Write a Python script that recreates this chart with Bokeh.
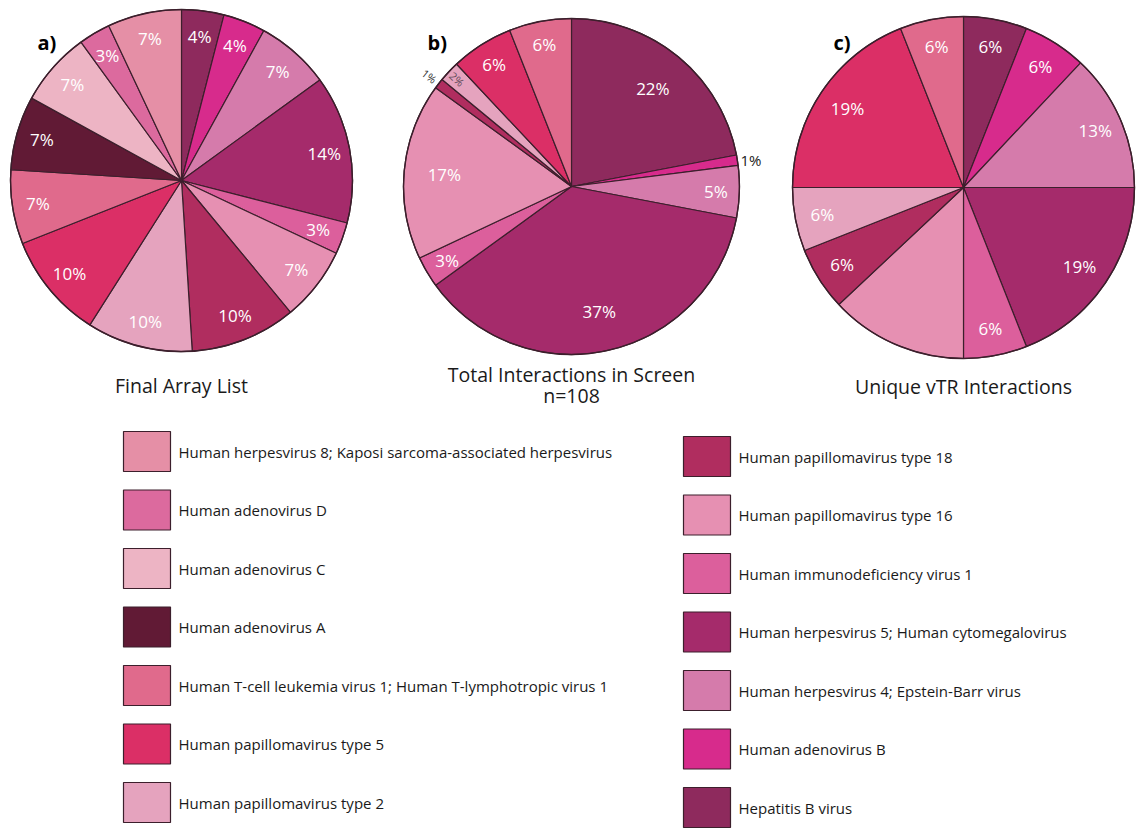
import math
from bokeh.plotting import figure
from bokeh.models import Range1d
from bokeh.embed import file_html
from bokeh.resources import INLINE
from bokeh.core.properties import value

# ---- data -------------------------------------------------------------
categories = [
    "Human herpesvirus 8; Kaposi sarcoma-associated herpesvirus",
    "Human adenovirus D",
    "Human adenovirus C",
    "Human adenovirus A",
    "Human T-cell leukemia virus 1; Human T-lymphotropic virus 1",
    "Human papillomavirus type 5",
    "Human papillomavirus type 2",
    "Human papillomavirus type 18",
    "Human papillomavirus type 16",
    "Human immunodeficiency virus 1",
    "Human herpesvirus 5; Human cytomegalovirus",
    "Human herpesvirus 4; Epstein-Barr virus",
    "Human adenovirus B",
    "Hepatitis B virus",
]
colors = [
    "#E58FA6", "#DC6A9E", "#EDB4C4", "#611A35", "#E06A8C", "#DB2F66", "#E5A3BE",
    "#B02D5F", "#E690B2", "#DC5F9C", "#A52B6B", "#D57BAB", "#D72B8C", "#8E2A5D",
]
final_array_pct = [7, 3, 7, 7, 7, 10, 10, 10, 7, 3, 14, 7, 4, 4]
total_interactions_pct = [0, 0, 0, 0, 6, 6, 2, 1, 17, 3, 37, 5, 1, 22]
unique_vtr_pct = [0, 0, 0, 0, 6, 19, 6, 6, 13, 6, 19, 13, 6, 6]

panel_letters = ["a)", "b)", "c)"]
panel_titles = ["Final Array List", "Total Interactions in Screen", "Unique vTR Interactions"]
panel_subtitles = ["", "n=108", ""]

# ---- layout (pixel coordinates, y measured from the top) --------------
W, H = 1139, 829
FONT = "Open Sans"
EDGE = "#3C1F2C"

pies = [
    dict(values=final_array_pct, cx=181, cy=180, r=171, lr_small=0.85, lr_large=0.82,
         letter=(37, 42), title_y=385),
    dict(values=total_interactions_pct, cx=571, cy=186, r=168, lr_small=0.86, lr_large=0.76,
         letter=(427, 42), title_y=374),
    dict(values=unique_vtr_pct, cx=963, cy=187, r=171, lr_small=0.84, lr_large=0.82,
         letter=(833, 42), title_y=386),
]
# slices whose percentage is not printed
hidden = {(2, "Human papillomavirus type 16")}


def Y(y):
    return H - y


p = figure(width=W, height=H, output_backend="svg", toolbar_location=None,
           x_range=Range1d(0, W), y_range=Range1d(0, H), min_border=0)
p.axis.visible = False
p.grid.visible = False
p.outline_line_color = None
p.background_fill_color = "white"
p.border_fill_color = "white"

for k, pie in enumerate(pies):
    vals = pie["values"]
    total = float(sum(vals))
    cx, cy, r = pie["cx"], Y(pie["cy"]), pie["r"]
    ws = dict(start=[], end=[], color=[])
    inner = dict(x=[], y=[], t=[])
    small = []
    acc = 0.0
    # slices run clockwise from 12 o'clock, last legend entry first
    for i in reversed(range(len(categories))):
        v = vals[i]
        if v <= 0:
            continue
        a0 = math.pi / 2 - 2 * math.pi * acc / total
        acc += v
        a1 = math.pi / 2 - 2 * math.pi * acc / total
        ws["start"].append(a0)
        ws["end"].append(a1)
        ws["color"].append(colors[i])
        mid = (a0 + a1) / 2
        label = f"{v}%"
        if (k, categories[i]) in hidden:
            continue
        if v >= 3:
            rr = r * (pie["lr_large"] if v >= 15 else pie["lr_small"])
            inner["x"].append(cx + rr * math.cos(mid))
            inner["y"].append(cy + rr * math.sin(mid))
            inner["t"].append(label)
        else:
            small.append((v, mid, label))

    p.wedge(x=cx, y=cy, radius=r, start_angle=ws["start"], end_angle=ws["end"],
            direction="clock", fill_color=ws["color"], line_color=EDGE, line_width=1.2)
    p.circle(x=[cx], y=[cy], radius=r, fill_color=None, line_color=EDGE, line_width=1.4)
    p.text(x=inner["x"], y=inner["y"], text=inner["t"], text_font=value(FONT),
           text_font_size="17px", text_color="white", text_align="center",
           text_baseline="middle")

    for v, mid, label in small:
        if abs(mid) < math.pi / 4:
            # tiny slice on the right: label just outside the rim
            rr = r + 3
            p.text(x=[cx + rr * math.cos(mid)], y=[cy + rr * math.sin(mid)], text=[label],
                   text_font=value(FONT), text_font_size="15px", text_color="#222222",
                   text_align="left", text_baseline="middle")
        else:
            # tiny slices on the upper left: radial labels
            rr = r + 12 if v == 1 else r - 11
            col = "#333333" if v == 1 else "#6a5060"
            p.text(x=[cx + rr * math.cos(mid)], y=[cy + rr * math.sin(mid)], text=[label],
                   angle=mid - math.pi, text_font=value(FONT), text_font_size="11px",
                   text_color=col, text_align="center", text_baseline="middle")

    lx, ly = pie["letter"]
    p.text(x=[lx], y=[Y(ly)], text=[panel_letters[k]], text_font=value(FONT),
           text_font_size="20px", text_font_style="bold", text_color="black",
           text_align="left", text_baseline="middle")
    p.text(x=[pie["cx"]], y=[Y(pie["title_y"])], text=[panel_titles[k]], text_font=value(FONT),
           text_font_size="19.5px", text_color="#1a1a1a", text_align="center",
           text_baseline="middle")
    if panel_subtitles[k]:
        p.text(x=[pie["cx"]], y=[Y(pie["title_y"] + 21)], text=[panel_subtitles[k]],
               text_font=value(FONT), text_font_size="19.5px", text_color="#1a1a1a",
               text_align="center", text_baseline="middle")

# ---- legend: two columns of seven ---------------------------------------
col_x = [123, 683]
col_top = [431, 436]
step, sw, sh = 58.5, 47, 40
lg = dict(left=[], right=[], top=[], bottom=[], color=[], tx=[], ty=[], t=[])
for i, name in enumerate(categories):
    c, row = divmod(i, 7)
    top = col_top[c] + row * step
    lg["left"].append(col_x[c])
    lg["right"].append(col_x[c] + sw)
    lg["top"].append(Y(top))
    lg["bottom"].append(Y(top + sh))
    lg["color"].append(colors[i])
    lg["tx"].append(col_x[c] + sw + 8)
    lg["ty"].append(Y(top + sh / 2))
    lg["t"].append(name)

p.quad(left=lg["left"], right=lg["right"], top=lg["top"], bottom=lg["bottom"],
       fill_color=lg["color"], line_color=EDGE, line_width=1.2)
p.text(x=lg["tx"], y=lg["ty"], text=lg["t"], text_font=value(FONT), text_font_size="15px",
       text_color="#1a1a1a", text_align="left", text_baseline="middle")

open("out.html", "w").write(file_html(p, INLINE))
